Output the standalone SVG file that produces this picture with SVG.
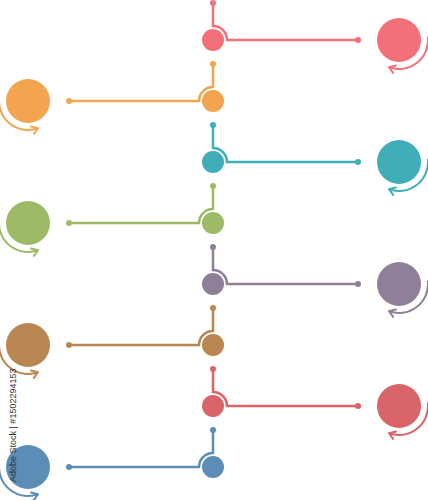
<svg xmlns="http://www.w3.org/2000/svg" xmlns:xlink="http://www.w3.org/1999/xlink" width="428" height="500" viewBox="0 0 428 500">
<style>
.ln{fill:none;stroke-width:2.5;stroke-linecap:round}
.ar{fill:none;stroke-width:2;stroke-linecap:round;stroke-linejoin:round}
.wm{font-family:"Liberation Sans",Arial,sans-serif;font-size:9px;fill:#333}
</style>
<defs>
<g id="arr">
<path d="M28.9,-2.5 A29,29 0 0 1 -9.9,27.25"/>
<path d="M-5.9,32.9 L-9.9,27.25 L-3.1,25.45"/>
</g>
</defs>
<rect width="428" height="500" fill="#fff"/>
<g id="connectors">
<path class="ln" stroke="#F2707A" d="M213,3 V26 A14,14 0 0 1 227,40 H358"/>
<path class="ln" stroke="#F3A44F" d="M213,64 V87 A14,14 0 0 0 199,101 H69"/>
<path class="ln" stroke="#3FAEB9" d="M213,125 V148 A14,14 0 0 1 227,162 H358"/>
<path class="ln" stroke="#9DBB67" d="M213,186 V209 A14,14 0 0 0 199,223 H69"/>
<path class="ln" stroke="#8F7F99" d="M213,247 V270 A14,14 0 0 1 227,284 H358"/>
<path class="ln" stroke="#B98651" d="M213,308 V331 A14,14 0 0 0 199,345 H69"/>
<path class="ln" stroke="#D9646A" d="M213,369 V392 A14,14 0 0 1 227,406 H358"/>
<path class="ln" stroke="#5B8DB6" d="M213,430 V453 A14,14 0 0 0 199,467 H69"/>
</g>
<g id="node1" fill="#F2707A" stroke="#F2707A">
<circle cx="213" cy="3" r="3" stroke="none"/><circle cx="358" cy="40" r="3" stroke="none"/>
<circle cx="213" cy="40" r="11" stroke="none"/><circle cx="399" cy="40" r="22" stroke="none"/>
<use href="#arr" class="ar" transform="translate(399,40)"/>
</g>
<g id="node2" fill="#F3A44F" stroke="#F3A44F">
<circle cx="213" cy="64" r="3" stroke="none"/><circle cx="69" cy="101" r="3" stroke="none"/>
<circle cx="213" cy="101" r="11" stroke="none"/><circle cx="28" cy="101" r="22" stroke="none"/>
<use href="#arr" class="ar" transform="translate(28,101) scale(-1,1)"/>
</g>
<g id="node3" fill="#3FAEB9" stroke="#3FAEB9">
<circle cx="213" cy="125" r="3" stroke="none"/><circle cx="358" cy="162" r="3" stroke="none"/>
<circle cx="213" cy="162" r="11" stroke="none"/><circle cx="399" cy="162" r="22" stroke="none"/>
<use href="#arr" class="ar" transform="translate(399,162)"/>
</g>
<g id="node4" fill="#9DBB67" stroke="#9DBB67">
<circle cx="213" cy="186" r="3" stroke="none"/><circle cx="69" cy="223" r="3" stroke="none"/>
<circle cx="213" cy="223" r="11" stroke="none"/><circle cx="28" cy="223" r="22" stroke="none"/>
<use href="#arr" class="ar" transform="translate(28,223) scale(-1,1)"/>
</g>
<g id="node5" fill="#8F7F99" stroke="#8F7F99">
<circle cx="213" cy="247" r="3" stroke="none"/><circle cx="358" cy="284" r="3" stroke="none"/>
<circle cx="213" cy="284" r="11" stroke="none"/><circle cx="399" cy="284" r="22" stroke="none"/>
<use href="#arr" class="ar" transform="translate(399,284)"/>
</g>
<g id="node6" fill="#B98651" stroke="#B98651">
<circle cx="213" cy="308" r="3" stroke="none"/><circle cx="69" cy="345" r="3" stroke="none"/>
<circle cx="213" cy="345" r="11" stroke="none"/><circle cx="28" cy="345" r="22" stroke="none"/>
<use href="#arr" class="ar" transform="translate(28,345) scale(-1,1)"/>
</g>
<g id="node7" fill="#D9646A" stroke="#D9646A">
<circle cx="213" cy="369" r="3" stroke="none"/><circle cx="358" cy="406" r="3" stroke="none"/>
<circle cx="213" cy="406" r="11" stroke="none"/><circle cx="399" cy="406" r="22" stroke="none"/>
<use href="#arr" class="ar" transform="translate(399,406)"/>
</g>
<g id="node8" fill="#5B8DB6" stroke="#5B8DB6">
<circle cx="213" cy="430" r="3" stroke="none"/><circle cx="69" cy="467" r="3" stroke="none"/>
<circle cx="213" cy="467" r="11" stroke="none"/><circle cx="28" cy="467" r="22" stroke="none"/>
<use href="#arr" class="ar" transform="translate(28,467) scale(-1,1)"/>
</g>
<text class="wm" transform="translate(16,482) rotate(-90)">Adobe Stock | #1502294153</text>
</svg>
